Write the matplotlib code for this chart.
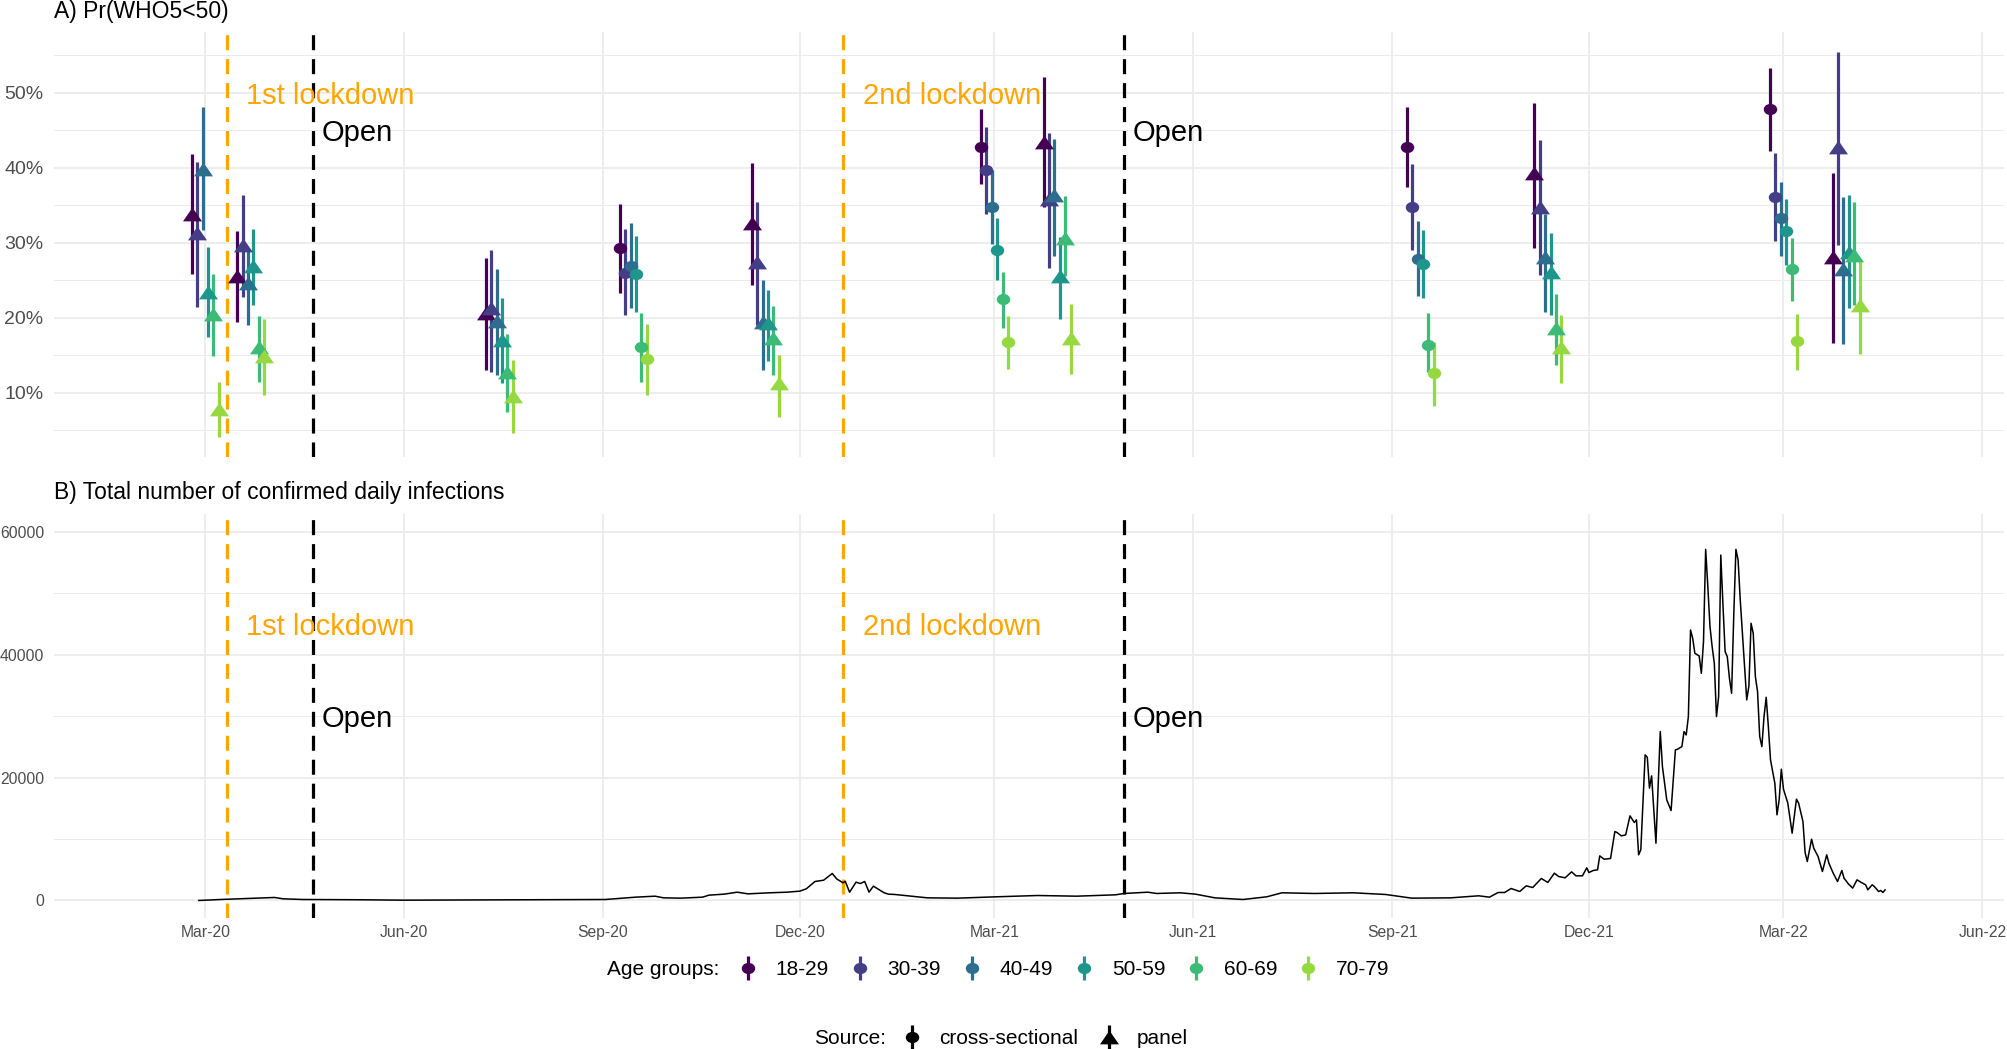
import numpy as np
import pandas as pd
import matplotlib
matplotlib.use("Agg")
import matplotlib.pyplot as plt
import matplotlib.dates as mdates
from matplotlib.path import Path
from matplotlib.lines import Line2D
from matplotlib.legend_handler import HandlerTuple
from matplotlib.ticker import FixedLocator, FuncFormatter

plt.rcParams['font.family'] = ['Liberation Sans', 'DejaVu Sans']

# ---------------- data ----------------
age_groups = ['18-29', '30-39', '40-49', '50-59', '60-69', '70-79']
age_colors = ['#440154', '#433E85', '#2D6E8E', '#1F968B', '#3BBB75', '#95D840']

wave_dates = ['2020-03-01', '2020-03-22', '2020-07-15', '2020-09-15', '2020-11-15',
              '2021-03-01', '2021-03-30', '2021-09-14', '2021-11-12', '2022-03-01', '2022-03-30']
wave_source = ['panel', 'panel', 'panel', 'cross-sectional', 'panel', 'cross-sectional',
               'panel', 'cross-sectional', 'panel', 'cross-sectional', 'panel']

# Pr(WHO5<50) in percent, per age group, one value per wave
est_18_29 = [33.9, 25.6, 20.6, 29.25, 32.7, 42.8, 43.5, 42.8, 39.25, 47.8, 28.1]
lo_18_29 = [25.9, 19.5, 13.0, 23.3, 24.4, 37.8, 34.8, 37.5, 29.25, 42.3, 16.7]
hi_18_29 = [41.8, 31.6, 28.0, 35.2, 40.6, 47.8, 52.05, 48.05, 48.7, 53.25, 39.3]

est_30_39 = [31.25, 29.7, 21.25, 26.0, 27.5, 39.7, 35.9, 34.8, 34.8, 36.1, 42.8]
lo_30_39 = [21.5, 22.8, 12.8, 20.4, 19.0, 33.9, 26.7, 29.1, 25.7, 30.3, 29.7]
hi_30_39 = [40.8, 36.4, 29.1, 31.8, 35.5, 45.4, 44.7, 40.45, 43.7, 42.0, 55.5]

est_40_49 = [39.9, 24.6, 19.6, 26.9, 19.4, 34.8, 36.4, 27.9, 28.05, 33.25, 26.45]
lo_40_49 = [31.7, 19.0, 12.4, 21.25, 13.0, 29.9, 28.2, 22.9, 20.8, 28.2, 16.5]
hi_40_49 = [48.05, 29.0, 26.45, 32.6, 25.0, 39.7, 43.9, 32.9, 33.9, 38.1, 36.05]

est_50_59 = [23.5, 26.9, 17.0, 25.8, 19.25, 29.1, 25.6, 27.2, 26.1, 31.6, 28.8]
lo_50_59 = [17.4, 21.7, 11.25, 20.8, 14.2, 25.0, 19.9, 22.7, 20.4, 27.0, 21.25]
hi_50_59 = [29.4, 31.8, 22.7, 30.9, 23.7, 33.25, 30.8, 31.7, 31.25, 35.8, 36.4]

est_60_69 = [20.5, 16.1, 12.8, 16.05, 17.25, 22.45, 30.7, 16.4, 18.6, 26.45, 28.4]
lo_60_69 = [14.9, 11.5, 7.5, 11.5, 12.4, 18.7, 25.6, 12.8, 13.7, 22.3, 21.7]
hi_60_69 = [25.8, 20.2, 17.8, 20.6, 21.6, 26.1, 36.2, 20.6, 23.15, 30.6, 35.5]

est_70_79 = [7.9, 14.9, 9.6, 14.5, 11.25, 16.8, 17.25, 12.6, 16.05, 16.9, 21.7]
lo_70_79 = [4.05, 9.7, 4.6, 9.7, 6.8, 13.2, 12.5, 8.2, 11.25, 13.1, 15.15]
hi_70_79 = [11.5, 19.8, 14.4, 19.2, 15.0, 20.2, 21.9, 16.8, 20.4, 20.5, 27.9]

# events
event_dates = ['2020-03-11', '2020-04-20', '2020-12-21', '2021-04-30']
event_colors = ['orange', 'black', 'orange', 'black']
event_labels = ['1st lockdown', 'Open', '2nd lockdown', 'Open']
label_dates = ['2020-03-20', '2020-04-24', '2020-12-30', '2021-05-04']
label_y_top = [50, 45, 50, 45]
label_y_bottom = [45000, 30000, 45000, 30000]

# daily confirmed infections
inf_dates = [
    '2020-02-27', '2020-03-08', '2020-04-02', '2020-04-06', '2020-04-15', '2020-05-10',
    '2020-06-01', '2020-07-16', '2020-08-10', '2020-09-02', '2020-09-16', '2020-09-25',
    '2020-09-29', '2020-10-07', '2020-10-17', '2020-10-20', '2020-10-27', '2020-11-02',
    '2020-11-07', '2020-11-17', '2020-11-25', '2020-12-01', '2020-12-04', '2020-12-08',
    '2020-12-12', '2020-12-16', '2020-12-18', '2020-12-21', '2020-12-22', '2020-12-24',
    '2020-12-27', '2020-12-29', '2020-12-31', '2021-01-02', '2021-01-04', '2021-01-06',
    '2021-01-09', '2021-01-11', '2021-01-14', '2021-01-29', '2021-02-12', '2021-03-02',
    '2021-03-21', '2021-04-08', '2021-04-26', '2021-04-30', '2021-05-11', '2021-05-15',
    '2021-05-26', '2021-06-02', '2021-06-11', '2021-06-24', '2021-07-05', '2021-07-12',
    '2021-07-27', '2021-08-14', '2021-08-29', '2021-09-10', '2021-09-28', '2021-10-11',
    '2021-10-16', '2021-10-20', '2021-10-23', '2021-10-26', '2021-10-30', '2021-11-02',
    '2021-11-05', '2021-11-09', '2021-11-12', '2021-11-15', '2021-11-17', '2021-11-20',
    '2021-11-23', '2021-11-25', '2021-11-28', '2021-11-30', '2021-12-01', '2021-12-03',
    '2021-12-05', '2021-12-06', '2021-12-08', '2021-12-11', '2021-12-13', '2021-12-14',
    '2021-12-16', '2021-12-18', '2021-12-20', '2021-12-21', '2021-12-22', '2021-12-23',
    '2021-12-24', '2021-12-25', '2021-12-27', '2021-12-28', '2021-12-29', '2021-12-30',
    '2022-01-01', '2022-01-03', '2022-01-04', '2022-01-06', '2022-01-08', '2022-01-10',
    '2022-01-11', '2022-01-13', '2022-01-14', '2022-01-15', '2022-01-16', '2022-01-17',
    '2022-01-18', '2022-01-19', '2022-01-21', '2022-01-22', '2022-01-23', '2022-01-24',
    '2022-01-25', '2022-01-26', '2022-01-27', '2022-01-28', '2022-01-29', '2022-01-30',
    '2022-01-31', '2022-02-01', '2022-02-02', '2022-02-03', '2022-02-04', '2022-02-05',
    '2022-02-06', '2022-02-07', '2022-02-08', '2022-02-09', '2022-02-10', '2022-02-12',
    '2022-02-13', '2022-02-14', '2022-02-15', '2022-02-16', '2022-02-17', '2022-02-18',
    '2022-02-19', '2022-02-20', '2022-02-21', '2022-02-22', '2022-02-23', '2022-02-25',
    '2022-02-26', '2022-02-27', '2022-02-28', '2022-03-01', '2022-03-03', '2022-03-05',
    '2022-03-07', '2022-03-08', '2022-03-10', '2022-03-11', '2022-03-12', '2022-03-14',
    '2022-03-15', '2022-03-17', '2022-03-19', '2022-03-21', '2022-03-22', '2022-03-24',
    '2022-03-26', '2022-03-28', '2022-03-29', '2022-03-31', '2022-04-02', '2022-04-04',
    '2022-04-06', '2022-04-08', '2022-04-09', '2022-04-11', '2022-04-12', '2022-04-14',
    '2022-04-15', '2022-04-16', '2022-04-17']
inf_values = [
    0, 160, 490, 270, 160, 120,
    50, 100, 130, 160, 540, 700,
    430, 380, 540, 870, 1030, 1350,
    1080, 1250, 1350, 1520, 1900, 3090,
    3300, 4390, 3520, 2870, 3140, 1350,
    2980, 2760, 3090, 1350, 2330, 1900,
    1250, 1030, 975, 430, 380, 600,
    810, 700, 920, 1140, 1350, 1140,
    1250, 1030, 430, 160, 600, 1250,
    1140, 1250, 975, 380, 430, 760,
    540, 1300, 1300, 1950, 1460, 2380,
    2110, 3580, 2930, 4440, 3900, 3690,
    4660, 4010, 4010, 5310, 4550, 4880,
    4990, 7260, 6720, 6830, 11220, 11060,
    10510, 10680, 13770, 13220, 12680, 13120,
    7430, 8240, 23690, 23300, 18270, 20270,
    9320, 27480, 21790, 16370, 14630, 24500,
    24610, 25040, 27480, 26940, 29920, 44010,
    42660, 40220, 39780, 36960, 42110, 57130,
    51060, 44550, 41300, 38590, 29920, 33170,
    56200, 48080, 40490, 39670, 36150, 33710,
    46450, 57130, 55400, 48890, 43470, 32630,
    34910, 45100, 43470, 36420, 33980, 26670,
    25040, 29920, 33060, 28290, 22870, 19080,
    13930, 16370, 21360, 18100, 15830, 10950,
    16480, 15830, 12850, 7800, 6340, 9970,
    8510, 7150, 4720, 7430, 6070, 4440,
    3090, 4880, 3630, 2710, 2010, 3360,
    2930, 2550, 1730, 2550, 2280, 1460,
    1630, 1300, 1730]

x_limits = ['2020-02-01', '2022-05-01']
x_ticks = ['2020-03-01', '2020-06-01', '2020-09-01', '2020-12-01', '2021-03-01', '2021-06-01',
           '2021-09-01', '2021-12-01', '2022-03-01', '2022-06-01']

# ---------------- figure ----------------
W, H = 2008, 1049
fig = plt.figure(figsize=(W / 100, H / 100), dpi=100)
fig.patch.set_facecolor('white')

ax1 = fig.add_axes([54 / W, 1 - 456.7 / H, 1950 / W, 424.4 / H])
ax2 = fig.add_axes([54 / W, 1 - 918 / H, 1950 / W, 404 / H])

# marker shapes (slightly wide, like the reference)
_c = Path.unit_circle()
ellipse = Path(_c.vertices * np.array([1.2, 1.0]), _c.codes)
triangle = Path([[0, 1], [-1.386, -1], [1.386, -1], [0, 1]],
                [Path.MOVETO, Path.LINETO, Path.LINETO, Path.CLOSEPOLY])
source_marker = {'cross-sectional': (ellipse, 9.7), 'panel': (triangle, 13.7)}

GRID = '#EBEBEB'
TICKC = '#4D4D4D'

xlo = mdates.date2num(pd.Timestamp(x_limits[0]))
xhi = mdates.date2num(pd.Timestamp(x_limits[1]))
xpad = 0.05 * (xhi - xlo)
tick_nums = mdates.date2num(pd.to_datetime(x_ticks))

for ax in (ax1, ax2):
    for s in ax.spines.values():
        s.set_visible(False)
    ax.set_xlim(xlo - xpad, xhi + xpad)
    ax.xaxis.set_major_locator(FixedLocator(tick_nums))
    ax.xaxis.set_major_formatter(mdates.DateFormatter('%b-%y'))
    ax.grid(which='major', color=GRID, lw=1.25)
    ax.grid(which='minor', axis='y', color=GRID, lw=0.7)
    ax.tick_params(which='both', length=0, colors=TICKC)
    ax.set_axisbelow(True)

# ---- panel A ----
ests = [est_18_29, est_30_39, est_40_49, est_50_59, est_60_69, est_70_79]
los = [lo_18_29, lo_30_39, lo_40_49, lo_50_59, lo_60_69, lo_70_79]
his = [hi_18_29, hi_30_39, hi_40_49, hi_50_59, hi_60_69, hi_70_79]

wave_x = mdates.date2num(pd.to_datetime(wave_dates))
src = np.array(wave_source)
dodge_width = 15.0
n = len(age_groups)
for i in range(n):
    x = wave_x + (i - (n - 1) / 2) * dodge_width / n
    ax1.vlines(x, los[i], his[i], color=age_colors[i], lw=2.3, zorder=3)
for i in range(n):
    x = wave_x + (i - (n - 1) / 2) * dodge_width / n
    e = np.array(ests[i])
    for s_name, (mk, ms) in source_marker.items():
        m = src == s_name
        ax1.plot(x[m], e[m], ls='none', marker=mk, ms=ms, mfc=age_colors[i],
                 mec='none', zorder=4)

all_lo = min(min(l) for l in los)
all_hi = max(max(h) for h in his)
ypad = 0.05 * (all_hi - all_lo)
ax1.set_ylim(all_lo - ypad, all_hi + ypad)
ax1.yaxis.set_major_locator(FixedLocator([10, 20, 30, 40, 50]))
ax1.yaxis.set_minor_locator(FixedLocator([5, 15, 25, 35, 45, 55]))
ax1.yaxis.set_major_formatter(FuncFormatter(lambda v, p: f'{v:.0f}%'))
ax1.tick_params(axis='y', labelsize=14, pad=7.5)
ax1.tick_params(axis='x', labelbottom=False)

# ---- panel B ----
ax2.plot(pd.to_datetime(inf_dates), inf_values, color='black', lw=1.1, zorder=3)
ax2.set_ylim(-2850, 62880)
ax2.yaxis.set_major_locator(FixedLocator([0, 20000, 40000, 60000]))
ax2.yaxis.set_minor_locator(FixedLocator([10000, 30000, 50000]))
ax2.yaxis.set_major_formatter(FuncFormatter(lambda v, p: f'{v:.0f}'))
ax2.tick_params(axis='y', labelsize=11.3, pad=7)
ax2.tick_params(axis='x', labelsize=11.3, pad=5)

# events
for ax, ys in ((ax1, label_y_top), (ax2, label_y_bottom)):
    for d, c in zip(event_dates, event_colors):
        ax.axvline(pd.Timestamp(d), color=c, lw=2.3, ls=(0, (4.7, 2.8)), zorder=2)
    for d, lab, c, y in zip(label_dates, event_labels, event_colors, ys):
        ax.text(pd.Timestamp(d), y, lab, color=c, fontsize=21, ha='left',
                va='center_baseline', zorder=5)

# titles
fig.text(54 / W, 1 - 11.7 / H, 'A) Pr(WHO5<50)', fontsize=16.5, ha='left', va='center')
fig.text(54 / W, 1 - 493 / H, 'B) Total number of confirmed daily infections',
         fontsize=16.5, ha='left', va='center')

# ---- legends ----
def key(color, mk, ms):
    bar = Line2D([], [], ls='none', marker='|', ms=17, mew=2.3, color=color)
    pt = Line2D([], [], ls='none', marker=mk, ms=ms, mfc=color, mec='none')
    return (bar, pt)

leg_kw = dict(frameon=False, fontsize=15, handlelength=1.0, handletextpad=0.825,
              columnspacing=0.99, borderpad=0, borderaxespad=0,
              handler_map={tuple: HandlerTuple(ndivide=1)})

row1_y = 1 - 969.5 / H
row2_y = 1 - 1038.5 / H

age_handles = [key(c, ellipse, 9.7) for c in age_colors]
fig.text(607 / W, row1_y, 'Age groups:', fontsize=15, ha='left', va='center')
fig.legend(age_handles, age_groups, loc='center left', ncol=6,
           bbox_to_anchor=(737.6 / W, row1_y), **leg_kw)

src_labels = ['cross-sectional', 'panel']
src_handles = [key('black', source_marker[s][0], source_marker[s][1]) for s in src_labels]
fig.text(814 / W, row2_y, 'Source:', fontsize=15, ha='left', va='center')
fig.legend(src_handles, src_labels, loc='center left', ncol=2,
           bbox_to_anchor=(901.2 / W, row2_y), **leg_kw)

fig.savefig('out.png', dpi=100, facecolor='white')
